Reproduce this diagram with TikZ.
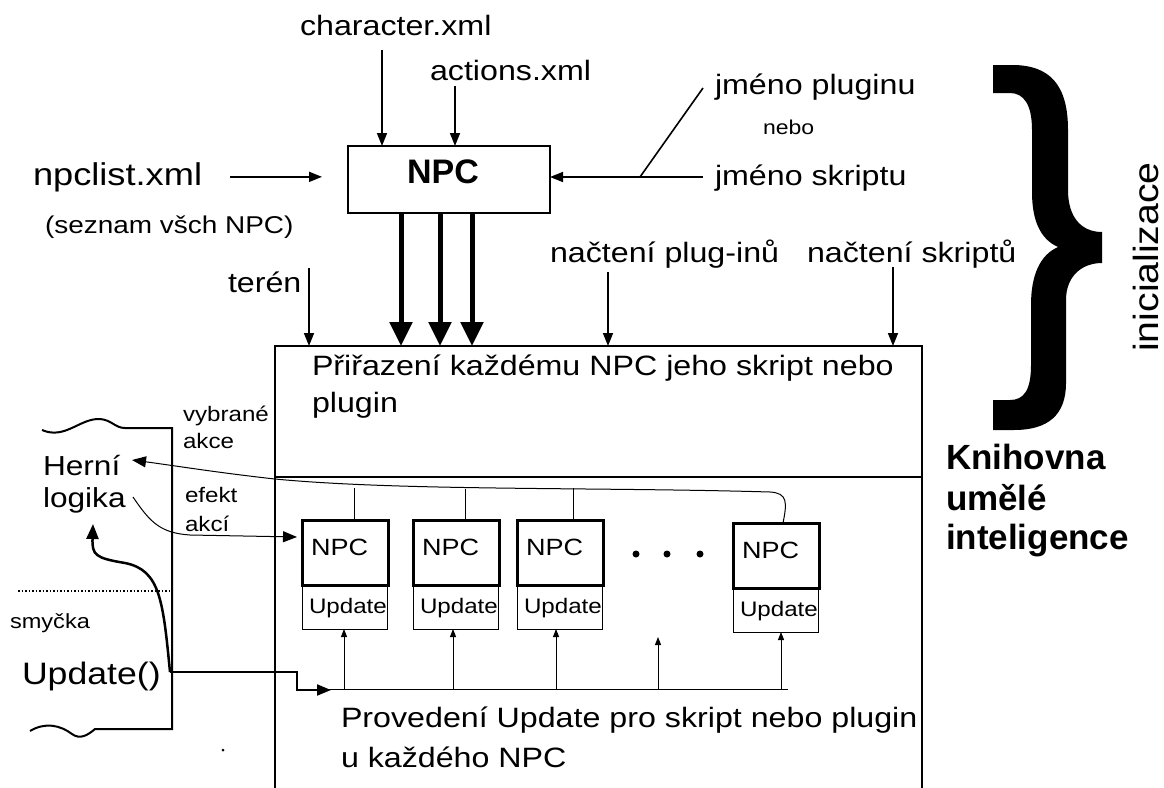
\documentclass[tikz,border=0pt]{standalone}
\usepackage{fontspec}
\usepackage{graphicx}
\setmainfont{Liberation Sans}[FakeStretch=1.15]
\newfontfamily\plainsans{Liberation Sans}
\usetikzlibrary{arrows.meta,calc}
\begin{document}
\begin{tikzpicture}[x=1pt,y=-1pt,
  every node/.style={inner sep=0pt, outer sep=0pt},
  txt/.style={anchor=base west, font=\fontsize{28}{34}\selectfont},
  smalltxt/.style={anchor=base west, font=\fontsize{21}{25}\selectfont},
  boldtxt/.style={anchor=base west, font=\plainsans\bfseries\fontsize{35}{42}\selectfont},
  arr/.style={line width=1.6pt, -{Triangle[length=13pt,width=10pt]}},
  fat/.style={line width=5pt, -{Triangle[length=24pt,width=22pt]}},
  uparr/.style={line width=1pt, -{Triangle[length=8pt,width=6pt]}},
  hair/.style={line width=1pt},
  curvarr/.style={line width=1pt, -{Triangle[length=14pt,width=11pt]}},
  npcbox/.style={draw, line width=3pt, minimum width=86pt, minimum height=65pt, anchor=north west},
  updbox/.style={draw, line width=1pt, minimum width=85pt, minimum height=44pt, anchor=north west},
  npclab/.style={anchor=base west, font=\fontsize{23.5}{28}\selectfont},
  updlab/.style={anchor=base west, font=\fontsize{21}{25}\selectfont},
]
\useasboundingbox (0,0) rectangle (1164,787);
\fill[white] (0,0) rectangle (1164,787);

% ---------- top inputs ----------
\node[txt] (charxml) at (300,35) {character.xml};
\node[txt] (actxml) at (430,80) {actions.xml};
\node[draw, line width=2.5pt, minimum width=202pt, minimum height=67pt] (npc) at (449,179.5) {};
\node[font=\plainsans\bfseries\fontsize{34}{40}\selectfont] (npctext) at (443,172) {NPC};
\node[txt, font=\fontsize{31.5}{38}\selectfont] (npclist) at (33,185) {npclist.xml};
\node[txt, font=\fontsize{24.3}{30}\selectfont] (seznam) at (45,233) {(seznam všch NPC)};
\node[txt] (plugname) at (715,94) {jméno pluginu};
\node[txt, font=\fontsize{20}{24}\selectfont] (nebo) at (763,134) {nebo};
\node[txt] (scriptname) at (715,185) {jméno skriptu};
\node[txt] (teren) at (228,292) {terén};
\node[txt] (loadplug) at (550,262) {načtení plug-inů};
\node[txt] (loadscr) at (807,262) {načtení skriptů};

\coordinate (c1) at (382,50);
\coordinate (c2) at (455,86);
\draw[arr] (c1) -- (c1 |- npc.north);
\draw[arr] (c2) -- (c2 |- npc.north);
\draw[arr, shorten <=28pt, shorten >=26pt] (npclist.east) -- (npc.west |- npclist.east);

\coordinate (jp) at (703,88);
\coordinate (js) at (703,177);
\coordinate (jj) at (640,177);
\draw[line width=1.6pt] (jp) -- (jj);
\draw[arr] (js) -- (npc.east |- js);

% ---------- library box ----------
\node[minimum width=647pt, minimum height=470pt, anchor=north west] (lib) at (275,346) {};
\coordinate (dv) at (0,477);
\draw[line width=2.5pt] (lib.south west) -- (lib.north west) -- (lib.north east) -- (lib.south east);
\draw[line width=2.5pt] (lib.west |- dv) -- (lib.east |- dv);

\foreach \x in {401,440,472} \draw[fat] (\x,213) -- (\x,346);
\coordinate (t1) at (309,268);
\coordinate (t2) at (608,272);
\coordinate (t3) at (893,267);
\draw[arr] (t1) -- (t1 |- lib.north);
\draw[arr] (t2) -- (t2 |- lib.north);
\draw[arr] (t3) -- (t3 |- lib.north);

\node[txt] (assign1) at (312,375) {Přiřazení každému NPC jeho skript nebo};
\node[txt] (assign2) at (312,412) {plugin};
\node[txt] (run1) at (341,727) {Provedení Update pro skript nebo plugin};
\node[txt] (run2) at (341,767) {u každého NPC};

% ---------- right side ----------
\node[boldtxt] (kn1) at (946,469) {Knihovna};
\node[boldtxt] (kn2) at (946,510) {umělé};
\node[boldtxt] (kn3) at (946,549) {inteligence};
\node[rotate=90, font=\plainsans\fontsize{35}{42}\selectfont] (init) at (1146,257) {\scalebox{1.12}[1]{inicializace}};
% curly brace
\fill (993,65) -- (1012,65) .. controls (1050,65) and (1068,85) .. (1068,130) -- (1068,190)
  .. controls (1068,218) and (1082,232) .. (1102,232) -- (1102,263)
  .. controls (1082,263) and (1066,276) .. (1066,300) -- (1066,383)
  .. controls (1066,415) and (1048,430) .. (1014,430) -- (993,430) -- (993,400) -- (1010,400)
  .. controls (1024,400) and (1031,390) .. (1031,365) -- (1031,305)
  .. controls (1031,275) and (1040,255) .. (1058,247)
  .. controls (1040,239) and (1032,220) .. (1032,192) -- (1032,130)
  .. controls (1032,105) and (1024,93) .. (1010,93) -- (993,93) -- cycle;

% ---------- NPC instances ----------
\node[npcbox] (n1) at (302,520) {};
\node[npcbox] (n2) at (413,520) {};
\node[npcbox] (n3) at (517,520) {};
\node[npcbox] (n4) at (733,523) {};
\node[updbox] (u1) at (302,585) {};
\node[updbox] (u2) at (413,585) {};
\node[updbox] (u3) at (517,585) {};
\node[updbox] (u4) at (733,588) {};
\foreach \b in {1,2,3,4}{
  \node[npclab] at ($(n\b.north west)+(9,35)$) {NPC};
  \node[updlab] at ($(u\b.north west)+(7,28)$) {Update};
}
\fill (636,554) circle (3.5);
\fill (667,554) circle (3.5);
\fill (700,554) circle (3.5);

% ---------- game loop ----------
\draw[line width=2pt] (42,430) .. controls (65,440) and (80,418) .. (100,419)
  .. controls (112,420) and (115,428) .. (125,428) -- (172,428) -- (172,729) -- (95,729)
  .. controls (88,735) and (80,740) .. (72,734) .. controls (60,725) and (45,722) .. (30,731);
\draw[line width=1.5pt, dotted] (18,591) -- (172,591);
\node[txt, font=\fontsize{27.5}{33}\selectfont] (herni) at (43,475) {Herní};
\node[txt, font=\fontsize{27.5}{33}\selectfont] (logika) at (43,507) {logika};
\node[txt, font=\fontsize{20.5}{25}\selectfont] (smycka) at (10,628) {smyčka};
\node[txt, font=\fontsize{31}{37}\selectfont] (upd) at (22,684) {Update()};
\node[smalltxt] (vyb1) at (183,421) {vybrané};
\node[smalltxt] (vyb2) at (183,448) {akce};
\node[smalltxt] (ef1) at (185,502) {efekt};
\node[smalltxt] (ef2) at (185,531) {akcí};

% selected actions: from last NPC back to game logic
\coordinate (n4top) at (783,523);
\coordinate (tipH) at (132,460);
\draw[curvarr] (n4top) .. controls (787,503) and (788,493) .. (770,492)
  .. controls (600,487) and (400,491) .. (275,479)
  .. controls (220,473) and (170,465) .. (tipH);
\draw[hair] ($(n1.north west)+(52,0)$) -- ++(0,-32);
\draw[hair] ($(n2.north west)+(52,0)$) -- ++(0,-31);
\draw[hair] ($(n3.north west)+(56,0)$) -- ++(0,-32);

% effect of actions
\coordinate (ef0) at (133,497);
\coordinate (efT) at (297,537);
\draw[curvarr] (ef0) .. controls (150,522) and (160,533) .. (190,535) -- (efT);

% Update() -> game logic
\coordinate (u0) at (170,672);
\coordinate (lgT) at (93,524);
\draw[line width=2.5pt, -{Triangle[length=15pt,width=12pt]}] (u0) .. controls (163,600) and (160,570) .. (125,563)
  .. controls (95,558) and (92,555) .. (lgT);

% Update() -> NPC updates
\coordinate (bl) at (324,689);
\coordinate (br) at (788,689);
\draw[line width=2pt, -{Triangle[length=14pt,width=11pt]}] (u0) -- (297,672) -- (297,690) -- (331,690);
\draw[hair] (bl) -- (br);
\draw[uparr] (344,689) -- (344 ,0 |- u1.south);
\draw[uparr] (453,689) -- (453,0 |- u2.south);
\draw[uparr] (556,689) -- (556,0 |- u3.south);
\draw[uparr] (658,689) -- (658,637);
\draw[uparr] (781,689) -- (781,0 |- u4.south);

\fill (223,750) circle (1.5);
\end{tikzpicture}
\end{document}
